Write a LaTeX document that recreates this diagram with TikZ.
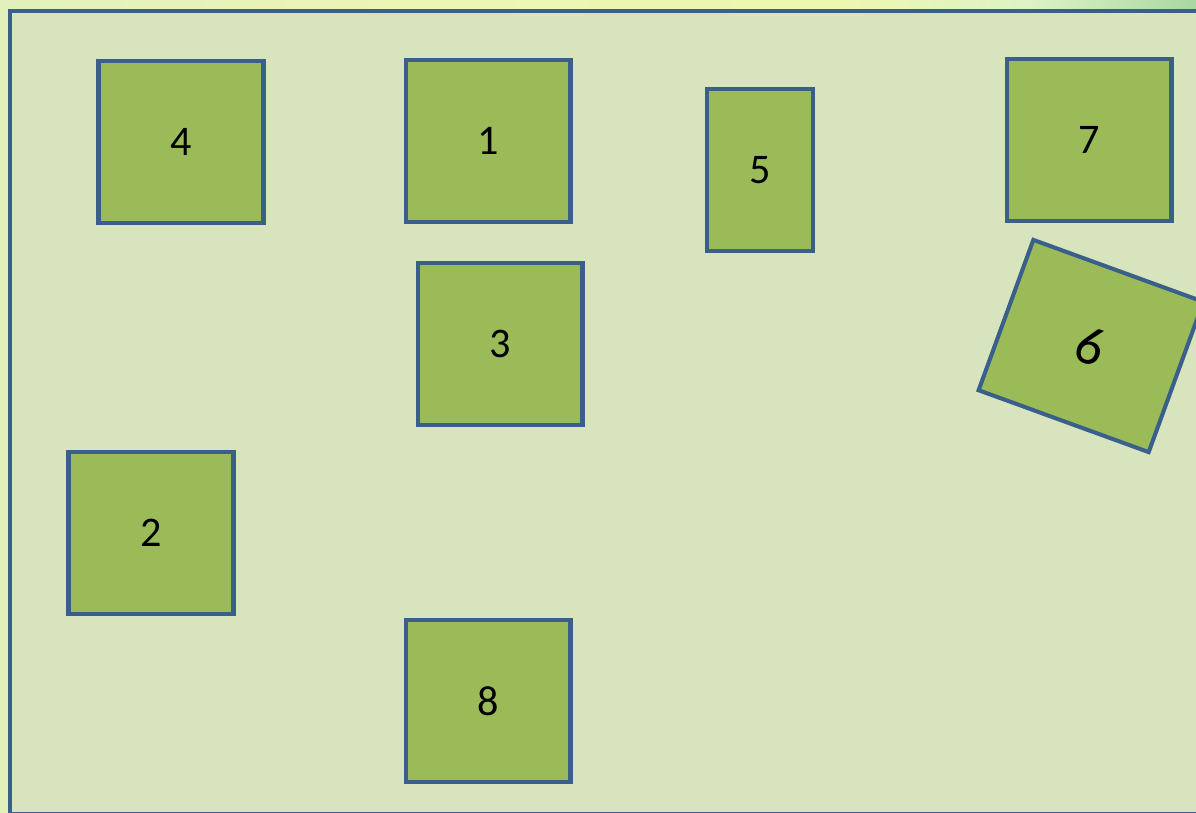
\documentclass[tikz,border=0pt]{standalone}
\usepackage{fontspec}
\setmainfont{Carlito}
\usepackage{xcolor}
\usepackage{tikz}

\definecolor{framebg}{HTML}{D7E4BD}
\definecolor{boxfill}{HTML}{9BBB59}
\definecolor{boxline}{HTML}{3A5F8B}
\definecolor{stripA}{HTML}{E2F0BC}
\definecolor{stripB}{HTML}{ECF5B4}
\definecolor{stripC}{HTML}{EEF7AE}
\definecolor{stripD}{HTML}{DDF3C6}
\definecolor{stripE}{HTML}{A8D7A2}
\pgfdeclarehorizontalshading{topstrip}{100bp}{
  color(0bp)=(stripA);
  color(25bp)=(stripA);
  color(42bp)=(stripB);
  color(60bp)=(stripC);
  color(68bp)=(stripD);
  color(75bp)=(stripE);
  color(100bp)=(stripE)}

\tikzset{
  box/.style={draw=boxline, fill=boxfill, line width=2.3pt,
    minimum width=3.3cm, minimum height=3.24cm, inner sep=0pt,
    font=\fontsize{24}{26}\selectfont},
  narrowbox/.style={box, minimum width=2.12cm}
}

\begin{document}
\begin{tikzpicture}[x=0.02cm, y=-0.02cm]

\useasboundingbox (0,0) rectangle (1196,812);
\clip (0,0) rectangle (1196,812);
\shade[shading=topstrip] (0,0) rectangle (1196,812);

% slide area
\draw[fill=framebg, draw=boxline, line width=2.8pt] (10,11) rectangle (1210,814);

\node[box] (b4) at (181,142) {4};
\node[box] (b1) at (488,141) {1};
\node[narrowbox] (b5) at (760,170) {5};
\node[box] (b7) at (1089,140) {7};
\node[box] (b3) at (500,344) {3};
\node[box] (b2) at (151,533) {2};
\node[box] (b8) at (488,701) {8};
\node[box, minimum width=3.62cm, minimum height=3.2cm, rotate=-20,
  font=\fontsize{31}{34}\selectfont] (b6) at (1091,346) {6};

\end{tikzpicture}
\end{document}
